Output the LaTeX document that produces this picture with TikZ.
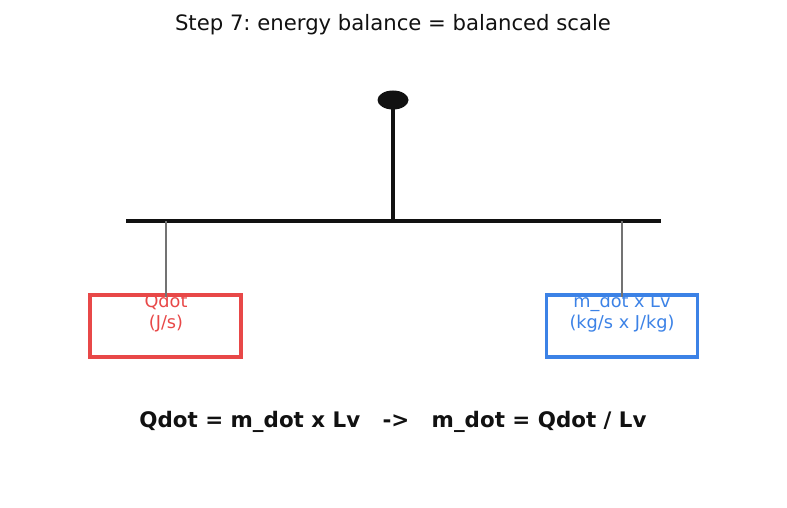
\documentclass[tikz,border=0pt]{standalone}
\usepackage{fontspec}
\setmainfont{DejaVu Sans}
\usetikzlibrary{shapes.geometric}
\definecolor{qred}{HTML}{E84848}
\definecolor{qblue}{HTML}{3C82E6}
\definecolor{ink}{HTML}{111111}
\tikzset{
  panbox/.style={draw, line width=3.5pt, minimum width=151pt, minimum height=62pt, inner sep=0pt},
  pantext/.style={align=center, font=\fontsize{17.7pt}{21pt}\selectfont, inner sep=0pt},
  hanger/.style={draw=gray!90!black, line width=1.6pt},
}
\frenchspacing
\begin{document}
\begin{tikzpicture}[x=1pt, y=-1pt]
      \useasboundingbox (0,0) rectangle (787,508);
      \node[font=\fontsize{21.2pt}{25pt}\selectfont, text=ink] (title) at (393,25) {Step 7: energy balance = balanced scale};
      \node[ellipse, fill=ink, minimum width=31pt, minimum height=19pt, inner sep=0pt] (pivot) at (393,100) {};
      \draw
        (126,221) coordinate (beamL)
        (661,221) coordinate (beamR)
        (393,221) coordinate (beamC)
        (166,221) coordinate (hangL)
        (622,221) coordinate (hangR);
      \node[pantext, text=qred, anchor=north] (qtext) at (166,293.5) {Qdot\\(J/s)};
      \node[pantext, text=qblue, anchor=north] (mtext) at (622,293.5) {m\_dot x Lv\\(kg/s x J/kg)};
      \node[panbox, draw=qred] (qbox) at (165.5,326) {};
      \node[panbox, draw=qblue] (mbox) at (622,326) {};
      \begin{scope}[line width=3.5pt, draw=ink]
        \draw (pivot.center) to (beamC);
        \draw (beamL) to (beamR);
      \end{scope}
      \begin{scope}[hanger]
        \draw (hangL) to ([yshift=-4pt]qbox.north -| hangL);
        \draw (hangR) to ([yshift=-4pt]mbox.north -| hangR);
      \end{scope}
      \node[font=\bfseries\fontsize{21.4pt}{25pt}\selectfont, text=ink] (law) at (393,422) {Qdot = m\_dot x Lv \ \ -> \ \ m\_dot = Qdot / Lv};
    \end{tikzpicture}
\end{document}
